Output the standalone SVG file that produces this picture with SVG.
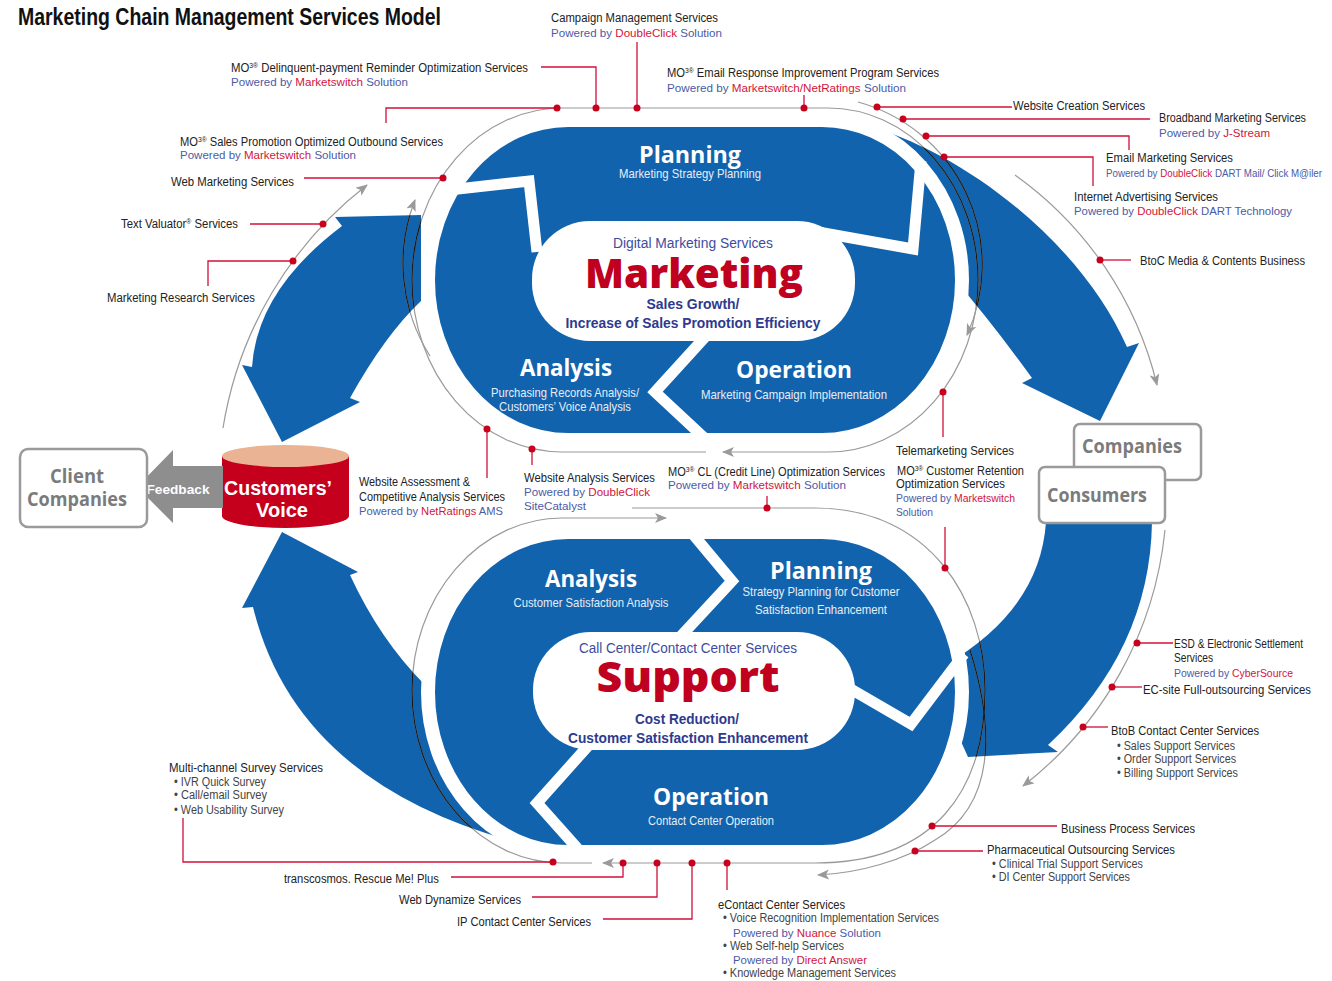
<svg xmlns="http://www.w3.org/2000/svg" width="1332" height="981" viewBox="0 0 1332 981">
<defs>
<style>
.lb{font-family:"Liberation Sans",Arial,sans-serif;font-size:12.5px;fill:#222}
.pw{font-family:"Liberation Sans",Arial,sans-serif;font-size:11px;fill:#4c5aa6}
.r{fill:#d2143a}
.bu{font-family:"Liberation Sans",Arial,sans-serif;font-size:12px;fill:#444}
.hd{font-family:"Open Sans","DejaVu Sans",sans-serif;font-weight:700;font-size:23px;fill:#fff;text-anchor:middle}
.sb{font-family:"Liberation Sans",Arial,sans-serif;font-size:13px;fill:#e6edf7;text-anchor:middle}
.cn{font-family:"Liberation Sans",Arial,sans-serif;font-size:14px;fill:#3d4c9f;text-anchor:middle}
.cb{font-family:"Liberation Sans",Arial,sans-serif;font-size:15px;font-weight:700;fill:#2e3a8e;text-anchor:middle}
.big{font-family:"Open Sans","DejaVu Sans",sans-serif;font-weight:800;fill:#c0001f;text-anchor:middle}
.ring{fill:none;stroke:#9a9a9a;stroke-width:1.2}
.blk{fill:none;stroke:#1a1a1a;stroke-width:1.2}
.cl{fill:none;stroke:#d0103a;stroke-width:1.3}
.dot{fill:#c8001e}
.chev{fill:none;stroke:#fff;stroke-width:11;stroke-linejoin:miter;stroke-miterlimit:10}
.box{fill:#fff;stroke:#9a9a9a;stroke-width:2.5}
.bx{font-family:"Open Sans","DejaVu Sans",sans-serif;font-weight:700;font-size:19px;fill:#7b7b7b;text-anchor:middle}
.ell{fill:#1263ad;stroke:#fff;stroke-width:14}
.arr{fill:#1263ad}
</style>
<marker id="ah" viewBox="0 0 12 10" refX="11" refY="5" markerWidth="12" markerHeight="10" markerUnits="userSpaceOnUse" orient="auto"><path d="M0,0 L12,5 L0,10 L3,5 Z" fill="#9a9a9a"/></marker>
<marker id="ahs" viewBox="0 0 12 10" refX="11" refY="5" markerWidth="12" markerHeight="10" markerUnits="userSpaceOnUse" orient="auto-start-reverse"><path d="M0,0 L12,5 L0,10 L3,5 Z" fill="#9a9a9a"/></marker>
<path id="aTR" d="M862,124 C960,150 1080,240 1127,347 L1139,343 L1100,421 L1022,383 L1032,378 Q990,320 955,280 L900,200 Z"/>
<path id="aLT" d="M335,217 L421,215 L421,301 Q385,335 350,398 L360,402 L282,442 L242,365 L252,367 Q257,290 342,226 Z"/>
<path id="aLB" d="M282,532 L358,572 L350,575 Q380,640 425,685 L520,800 L562,853 Q300,800 253,607 L242,608 Z"/>
<path id="aRB" d="M1046,522 L1152,522 Q1150,650 1048,745 L1058,752 L968,757 L925,662 L945,665 Q1040,610 1046,522 Z"/>
<clipPath id="arrClip"><use href="#aTR"/><use href="#aLT"/><use href="#aLB"/><use href="#aRB"/></clipPath>
<path id="pR1" fill="none" d="M723,452 H828 A150,172 0 0 0 978,280 A150,172 0 0 0 828,108 H562 A150,172 0 0 0 412,280 A150,172 0 0 0 562,452 H706"/>
<path id="pR2" fill="none" d="M430,356 A173,173 0 0 1 415,200"/>
<path id="pR3" fill="none" d="M858,102 A169,169 0 0 1 967,335"/>
<path id="pR4" fill="none" d="M1015,175 A362,362 0 0 1 1157,385"/>
<path id="pL" fill="none" d="M223,428 A385,385 0 0 1 367,185"/>
<path id="pR5" fill="none" d="M1165,530 A370,370 0 0 1 1023,786"/>
<path id="pA" fill="none" d="M632,508 H815 C930,508 985,600 985,690 C985,790 935,863 815,863 H603"/>
<path id="pP" fill="none" d="M592,863 H562 A150,172.5 0 0 1 412,690.5 A150,172.5 0 0 1 562,518 H666"/>
<path id="pB" fill="none" d="M970,650 C995,730 995,805 935,840 C905,860 860,873 818,875"/>
</defs>

<rect width="1332" height="981" fill="#fff"/>

<g id="title"><text x="18" y="25" font-family="Liberation Sans, Arial, sans-serif" font-weight="700" font-size="24" fill="#111" textLength="423" lengthAdjust="spacingAndGlyphs">Marketing Chain Management Services Model</text></g>

<g id="flow-arrows" class="arr">
<use href="#aTR"/><use href="#aLT"/><use href="#aLB"/><use href="#aRB"/>
</g>

<g id="marketing-cycle">
<rect class="ell" x="428" y="120" width="534" height="320" rx="140" ry="160"/>
<path class="chev" d="M440,191 L529,181 L537,252"/>
<path class="chev" d="M818,232 L913,249 L921,161"/>
<path class="chev" d="M706,336 L655,392 L713,446"/>
<rect x="532" y="221" width="323" height="120" rx="58" fill="#fff"/>
<text class="hd" x="690" y="163" textLength="102" lengthAdjust="spacingAndGlyphs">Planning</text>
<text class="sb" x="690" y="178" textLength="142" lengthAdjust="spacingAndGlyphs">Marketing Strategy Planning</text>
<text class="hd" x="566" y="376" textLength="92" lengthAdjust="spacingAndGlyphs">Analysis</text>
<text class="sb" x="565" y="397" textLength="148" lengthAdjust="spacingAndGlyphs">Purchasing Records Analysis/</text>
<text class="sb" x="565" y="411" textLength="132" lengthAdjust="spacingAndGlyphs">Customers’ Voice Analysis</text>
<text class="hd" x="794" y="378" textLength="116" lengthAdjust="spacingAndGlyphs">Operation</text>
<text class="sb" x="794" y="399" textLength="186" lengthAdjust="spacingAndGlyphs">Marketing Campaign Implementation</text>
<text class="cn" x="693" y="248" textLength="160" lengthAdjust="spacingAndGlyphs">Digital Marketing Services</text>
<text class="big" x="694" y="288" font-size="40" textLength="218" lengthAdjust="spacingAndGlyphs">Marketing</text>
<text class="cb" x="693" y="309" textLength="93" lengthAdjust="spacingAndGlyphs">Sales Growth/</text>
<text class="cb" x="693" y="328" textLength="255" lengthAdjust="spacingAndGlyphs">Increase of Sales Promotion Efficiency</text>
</g>

<g id="support-cycle">
<rect class="ell" x="428" y="532" width="534" height="320" rx="140" ry="160"/>
<path class="chev" d="M686,526 L732,581 L681,636"/>
<path class="chev" d="M849,688 L911,724 L964,654"/>
<path class="chev" d="M588,746 L537,803 L586,858"/>
<rect x="533" y="632" width="322" height="118" rx="58" fill="#fff"/>
<text class="hd" x="591" y="587" textLength="92" lengthAdjust="spacingAndGlyphs">Analysis</text>
<text class="sb" x="591" y="607" textLength="155" lengthAdjust="spacingAndGlyphs">Customer Satisfaction Analysis</text>
<text class="hd" x="821" y="579" textLength="102" lengthAdjust="spacingAndGlyphs">Planning</text>
<text class="sb" x="821" y="596" textLength="157" lengthAdjust="spacingAndGlyphs">Strategy Planning for Customer</text>
<text class="sb" x="821" y="614" textLength="132" lengthAdjust="spacingAndGlyphs">Satisfaction Enhancement</text>
<text class="cn" x="688" y="653" textLength="218" lengthAdjust="spacingAndGlyphs">Call Center/Contact Center Services</text>
<text class="big" x="688" y="692" font-size="42" textLength="183" lengthAdjust="spacingAndGlyphs">Support</text>
<text class="cb" x="687" y="724" textLength="104" lengthAdjust="spacingAndGlyphs">Cost Reduction/</text>
<text class="cb" x="688" y="743" textLength="240" lengthAdjust="spacingAndGlyphs">Customer Satisfaction Enhancement</text>
<text class="hd" x="711" y="805" textLength="116" lengthAdjust="spacingAndGlyphs">Operation</text>
<text class="sb" x="711" y="825" textLength="126" lengthAdjust="spacingAndGlyphs">Contact Center Operation</text>
</g>

<g id="connectors">
<g class="ring">
<use href="#pR1" style="marker-start:url(#ahs)"/>
<use href="#pR2" style="marker-end:url(#ah)"/>
<use href="#pR3" style="marker-end:url(#ah)"/>
<use href="#pR4" style="marker-end:url(#ah)"/>
<use href="#pL" style="marker-end:url(#ah)"/>
<use href="#pR5" style="marker-end:url(#ah)"/>
<use href="#pA" style="marker-end:url(#ah)"/>
<use href="#pP" style="marker-end:url(#ah)"/>
<use href="#pB" style="marker-end:url(#ah)"/>
</g>
<g class="blk" clip-path="url(#arrClip)">
<use href="#pR1"/><use href="#pR2"/><use href="#pR3"/><use href="#pA"/><use href="#pP"/><use href="#pB"/>
</g>
<g class="cl">
<path d="M637,42 V108"/>
<path d="M541,67 H596 V108"/>
<path d="M804,95 V108"/>
<path d="M386,123 V108 H557"/>
<path d="M304,178 H443"/>
<path d="M250,224 H323"/>
<path d="M208,286 V261 H293"/>
<path d="M877,107 H1012"/>
<path d="M903,119 H1150"/>
<path d="M926,136 H1129 V150"/>
<path d="M944,157 H1093 V186"/>
<path d="M1100,260 H1131"/>
<path d="M487,429 V478"/>
<path d="M532,449 V465"/>
<path d="M767,496 V508"/>
<path d="M943,392 V437"/>
<path d="M945,527 V568"/>
<path d="M1137,643 H1173"/>
<path d="M1112,687 H1142"/>
<path d="M1083,727 H1108"/>
<path d="M932,826 H1057"/>
<path d="M915,851 H983"/>
<path d="M183,818 V862 H553"/>
<path d="M451,877 H623 V863"/>
<path d="M532,897 H657 V863"/>
<path d="M603,919 H692 V863"/>
<path d="M727,863 V890"/>
</g>
<g class="dot">
<circle cx="557" cy="108" r="3.5"/><circle cx="596" cy="108" r="3.5"/><circle cx="637" cy="108" r="3.5"/><circle cx="804" cy="108" r="3.5"/>
<circle cx="443" cy="178" r="3.5"/><circle cx="323" cy="224" r="3.5"/><circle cx="293" cy="261" r="3.5"/>
<circle cx="877" cy="107" r="3.5"/><circle cx="903" cy="119" r="3.5"/><circle cx="926" cy="136" r="3.5"/><circle cx="944" cy="157" r="3.5"/>
<circle cx="1100" cy="260" r="3.5"/>
<circle cx="487" cy="429" r="3.5"/><circle cx="532" cy="449" r="3.5"/><circle cx="767" cy="508" r="3.5"/>
<circle cx="943" cy="392" r="3.5"/><circle cx="945" cy="568" r="3.5"/>
<circle cx="1137" cy="643" r="3.5"/><circle cx="1112" cy="687" r="3.5"/><circle cx="1083" cy="727" r="3.5"/>
<circle cx="932" cy="826" r="3.5"/><circle cx="915" cy="851" r="3.5"/>
<circle cx="553" cy="862" r="3.5"/><circle cx="623" cy="863" r="3.5"/><circle cx="657" cy="863" r="3.5"/><circle cx="692" cy="863" r="3.5"/><circle cx="727" cy="863" r="3.5"/>
</g>
</g>

<g id="customers-voice">
<path d="M222,456 V516 A63.5,12 0 0 0 349,516 V456 Z" fill="#c4001c"/>
<ellipse cx="285.5" cy="456" rx="63.5" ry="11" fill="#e9b394"/>
<text x="278" y="495" font-family="Liberation Sans, Arial, sans-serif" font-weight="700" font-size="20" fill="#fff" text-anchor="middle" textLength="108" lengthAdjust="spacingAndGlyphs">Customers’</text>
<text x="282" y="517" font-family="Liberation Sans, Arial, sans-serif" font-weight="700" font-size="20" fill="#fff" text-anchor="middle" textLength="52" lengthAdjust="spacingAndGlyphs">Voice</text>
</g>

<g id="feedback">
<path d="M137,487 L173,450 L173,466 L223,466 L223,508 L173,508 L173,523 Z" fill="#8e8e8e"/>
<text x="178" y="494" font-family="Liberation Sans, Arial, sans-serif" font-weight="700" font-size="13" fill="#fff" text-anchor="middle" textLength="63" lengthAdjust="spacingAndGlyphs">Feedback</text>
</g>

<g id="client-companies">
<rect class="box" x="20" y="449" width="127" height="78" rx="8"/>
<text class="bx" x="77" y="483" textLength="54" lengthAdjust="spacingAndGlyphs">Client</text>
<text class="bx" x="77" y="506" textLength="100" lengthAdjust="spacingAndGlyphs">Companies</text>
</g>

<g id="companies">
<rect class="box" x="1074" y="424" width="127" height="56" rx="6"/>
<text class="bx" x="1132" y="453" textLength="100" lengthAdjust="spacingAndGlyphs">Companies</text>
</g>
<g id="consumers">
<rect class="box" x="1039" y="467" width="126" height="56" rx="6"/>
<text class="bx" x="1097" y="502" textLength="100" lengthAdjust="spacingAndGlyphs">Consumers</text>
</g>

<g id="labels-top">
<text class="lb" x="551" y="22" textLength="167" lengthAdjust="spacingAndGlyphs">Campaign Management Services</text>
<text class="pw" x="551" y="37" textLength="171" lengthAdjust="spacingAndGlyphs">Powered by <tspan class="r">DoubleClick</tspan> Solution</text>
<text class="lb" x="231" y="72" textLength="297" lengthAdjust="spacingAndGlyphs">MO<tspan dy="-4" font-size="7.5">3®</tspan><tspan dy="4"> Delinquent-payment Reminder Optimization Services</tspan></text>
<text class="pw" x="231" y="86" textLength="177" lengthAdjust="spacingAndGlyphs">Powered by <tspan class="r">Marketswitch</tspan> Solution</text>
<text class="lb" x="667" y="77" textLength="272" lengthAdjust="spacingAndGlyphs">MO<tspan dy="-4" font-size="7.5">3®</tspan><tspan dy="4"> Email Response Improvement Program Services</tspan></text>
<text class="pw" x="667" y="92" textLength="239" lengthAdjust="spacingAndGlyphs">Powered by <tspan class="r">Marketswitch/NetRatings</tspan> Solution</text>
<text class="lb" x="1013" y="110" textLength="132" lengthAdjust="spacingAndGlyphs">Website Creation Services</text>
<text class="lb" x="1159" y="122" textLength="147" lengthAdjust="spacingAndGlyphs">Broadband Marketing Services</text>
<text class="pw" x="1159" y="137" textLength="111" lengthAdjust="spacingAndGlyphs">Powered by <tspan class="r">J-Stream</tspan></text>
<text class="lb" x="1106" y="162" textLength="127" lengthAdjust="spacingAndGlyphs">Email Marketing Services</text>
<text class="pw" x="1106" y="177" font-size="10.5" textLength="216" lengthAdjust="spacingAndGlyphs">Powered by <tspan class="r">DoubleClick</tspan> DART Mail/ Click M@iler</text>
<text class="lb" x="1074" y="201" textLength="144" lengthAdjust="spacingAndGlyphs">Internet Advertising Services</text>
<text class="pw" x="1074" y="215" textLength="218" lengthAdjust="spacingAndGlyphs">Powered by <tspan class="r">DoubleClick</tspan> DART Technology</text>
<text class="lb" x="1140" y="265" textLength="165" lengthAdjust="spacingAndGlyphs">BtoC Media &amp; Contents Business</text>
<text class="lb" x="180" y="146" textLength="263" lengthAdjust="spacingAndGlyphs">MO<tspan dy="-4" font-size="7.5">3®</tspan><tspan dy="4"> Sales Promotion Optimized Outbound Services</tspan></text>
<text class="pw" x="180" y="159" textLength="176" lengthAdjust="spacingAndGlyphs">Powered by <tspan class="r">Marketswitch</tspan> Solution</text>
<text class="lb" x="171" y="186" textLength="123" lengthAdjust="spacingAndGlyphs">Web Marketing Services</text>
<text class="lb" x="121" y="228" textLength="117" lengthAdjust="spacingAndGlyphs">Text Valuator<tspan dy="-4" font-size="7.5">®</tspan><tspan dy="4"> Services</tspan></text>
<text class="lb" x="107" y="302" textLength="148" lengthAdjust="spacingAndGlyphs">Marketing Research Services</text>
</g>

<g id="labels-middle">
<text class="lb" x="359" y="486" textLength="111" lengthAdjust="spacingAndGlyphs">Website Assessment &amp;</text>
<text class="lb" x="359" y="501" textLength="146" lengthAdjust="spacingAndGlyphs">Competitive Analysis Services</text>
<text class="pw" x="359" y="515" textLength="144" lengthAdjust="spacingAndGlyphs">Powered by <tspan class="r">NetRatings</tspan> AMS</text>
<text class="lb" x="524" y="482" textLength="131" lengthAdjust="spacingAndGlyphs">Website Analysis Services</text>
<text class="pw" x="524" y="496" textLength="126" lengthAdjust="spacingAndGlyphs">Powered by <tspan class="r">DoubleClick</tspan></text>
<text class="pw" x="524" y="510" textLength="62" lengthAdjust="spacingAndGlyphs">SiteCatalyst</text>
<text class="lb" x="668" y="476" textLength="217" lengthAdjust="spacingAndGlyphs">MO<tspan dy="-4" font-size="7.5">3®</tspan><tspan dy="4"> CL (Credit Line) Optimization Services</tspan></text>
<text class="pw" x="668" y="489" textLength="178" lengthAdjust="spacingAndGlyphs">Powered by <tspan class="r">Marketswitch</tspan> Solution</text>
<text class="lb" x="896" y="455" textLength="118" lengthAdjust="spacingAndGlyphs">Telemarketing Services</text>
<text class="lb" x="897" y="475" textLength="127" lengthAdjust="spacingAndGlyphs">MO<tspan dy="-4" font-size="7.5">3®</tspan><tspan dy="4"> Customer Retention</tspan></text>
<text class="lb" x="896" y="488" textLength="109" lengthAdjust="spacingAndGlyphs">Optimization Services</text>
<text class="pw" x="896" y="502" textLength="119" lengthAdjust="spacingAndGlyphs">Powered by <tspan class="r">Marketswitch</tspan></text>
<text class="pw" x="896" y="516" textLength="37" lengthAdjust="spacingAndGlyphs">Solution</text>
</g>

<g id="labels-right">
<text class="lb" x="1174" y="648" textLength="129" lengthAdjust="spacingAndGlyphs">ESD &amp; Electronic Settlement</text>
<text class="lb" x="1174" y="662" textLength="39" lengthAdjust="spacingAndGlyphs">Services</text>
<text class="pw" x="1174" y="677" textLength="119" lengthAdjust="spacingAndGlyphs">Powered by <tspan class="r">CyberSource</tspan></text>
<text class="lb" x="1143" y="694" textLength="168" lengthAdjust="spacingAndGlyphs">EC-site Full-outsourcing Services</text>
<text class="lb" x="1111" y="735" textLength="148" lengthAdjust="spacingAndGlyphs">BtoB Contact Center Services</text>
<text class="bu" x="1117" y="750" textLength="118" lengthAdjust="spacingAndGlyphs">• Sales Support Services</text>
<text class="bu" x="1117" y="763" textLength="119" lengthAdjust="spacingAndGlyphs">• Order Support Services</text>
<text class="bu" x="1117" y="777" textLength="121" lengthAdjust="spacingAndGlyphs">• Billing Support Services</text>
<text class="lb" x="1061" y="833" textLength="134" lengthAdjust="spacingAndGlyphs">Business Process Services</text>
<text class="lb" x="987" y="854" textLength="188" lengthAdjust="spacingAndGlyphs">Pharmaceutical Outsourcing Services</text>
<text class="bu" x="992" y="868" textLength="151" lengthAdjust="spacingAndGlyphs">• Clinical Trial Support Services</text>
<text class="bu" x="992" y="881" textLength="138" lengthAdjust="spacingAndGlyphs">• DI Center Support Services</text>
</g>

<g id="labels-bottom">
<text class="lb" x="169" y="772" textLength="154" lengthAdjust="spacingAndGlyphs">Multi-channel Survey Services</text>
<text class="bu" x="174" y="786" textLength="92" lengthAdjust="spacingAndGlyphs">• IVR Quick Survey</text>
<text class="bu" x="174" y="799" textLength="93" lengthAdjust="spacingAndGlyphs">• Call/email Survey</text>
<text class="bu" x="174" y="814" textLength="110" lengthAdjust="spacingAndGlyphs">• Web Usability Survey</text>
<text class="lb" x="284" y="883" textLength="155" lengthAdjust="spacingAndGlyphs">transcosmos. Rescue Me! Plus</text>
<text class="lb" x="399" y="904" textLength="122" lengthAdjust="spacingAndGlyphs">Web Dynamize Services</text>
<text class="lb" x="457" y="926" textLength="134" lengthAdjust="spacingAndGlyphs">IP Contact Center Services</text>
<text class="lb" x="718" y="909" textLength="127" lengthAdjust="spacingAndGlyphs">eContact Center Services</text>
<text class="bu" x="723" y="922" textLength="216" lengthAdjust="spacingAndGlyphs">• Voice Recognition Implementation Services</text>
<text class="pw" x="733" y="937" textLength="148" lengthAdjust="spacingAndGlyphs">Powered by <tspan class="r">Nuance</tspan> Solution</text>
<text class="bu" x="723" y="950" textLength="121" lengthAdjust="spacingAndGlyphs">• Web Self-help Services</text>
<text class="pw" x="733" y="964" textLength="134" lengthAdjust="spacingAndGlyphs">Powered by <tspan class="r">Direct Answer</tspan></text>
<text class="bu" x="723" y="977" textLength="173" lengthAdjust="spacingAndGlyphs">• Knowledge Management Services</text>
</g>
</svg>
